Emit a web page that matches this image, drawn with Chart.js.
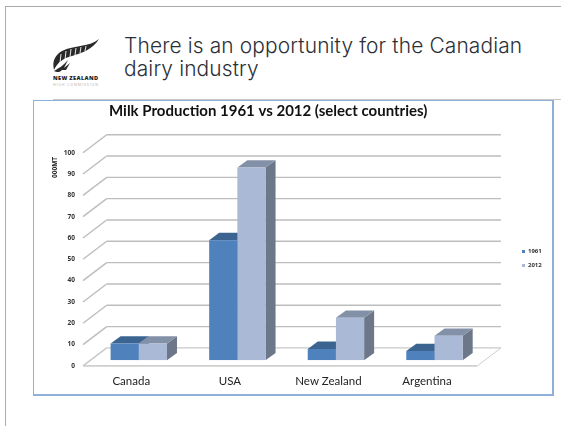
<!DOCTYPE html>
<html>
<head>
<meta charset="utf-8">
<script src="https://cdn.jsdelivr.net/npm/chart.js@4/dist/chart.umd.min.js"></script>
<style>
  html, body { margin: 0; padding: 0; background: #fff; overflow: hidden; }
  body { width: 561px; height: 426px; position: relative; font-family: "Open Sans", sans-serif; }
  .slide { position: absolute; left: 5px; top: 6px; width: 600px; height: 500px; border: 1px solid #ababab; border-width: 1.5px 0 0 1.5px; }
  .heading { position: absolute; left: 124px; top: 34px; font: 300 20.9px/23px Inter, sans-serif; color: #2b3038; white-space: nowrap; letter-spacing: .15px; }
  .rule { position: absolute; left: 53px; top: 98.5px; width: 508px; height: 1px; background: #c9c9c9; }
  .logo { position: absolute; left: 50px; top: 36px; width: 54px; height: 54px; }
  .frame { position: absolute; left: 33px; top: 100px; width: 518px; height: 293px; border: 1px solid #8fb0d8; border-width: 1px 2px 2px 1px; background: #fff; }
  canvas { display: block; }
</style>
</head>
<body>
<div class="slide"></div>
<div class="rule"></div>
<svg class="logo" viewBox="0 0 54 54">
  <path d="M49 3 C40 11 24 9 12 15 C5 19 2 25 4 34 C7 27 13 22 22 20 C32 17 43 13 49 3 Z" fill="#2a2a2a"/>
  <path d="M5 34 C9 26 16 23 24 21 M10 27 L11 18 M15 24 L16 15 M20 21 L21 13 M25 19 L26 12 M30 17 L31 11 M35 15 L36 10" stroke="#fff" stroke-width=".9" fill="none"/>
  <path d="M4 35 C9 32 13 30 18 24 L14 32 L20 27 L16 34 L12 34 C10 36 8 37 4 35 Z" fill="#2a2a2a"/>
  <text x="3" y="43.5" font-family="Open Sans" font-size="5.6" font-weight="800" fill="#222" textLength="45">NEW ZEALAND</text>
  <text x="3" y="49.5" font-family="Open Sans" font-size="3.8" fill="#b5b5b5" textLength="45">HIGH COMMISSION</text>
</svg>
<div class="heading">There is an opportunity for the Canadian<br>dairy industry</div>
<div class="frame"><canvas id="chart" width="518" height="293"></canvas></div>
<script>
// Milk output by country, thousands of tonnes as charted
const categories = ["Canada", "USA", "New Zealand", "Argentina"];
const series1961 = [7.8, 56.3, 5.3, 4.3];
const series2012 = [7.8, 90.4, 19.9, 11.5];
const yTicks = [0, 10, 20, 30, 40, 50, 60, 70, 80, 90, 100];
const yCaption = "000MT";

const FRONT = { dx: -6.5, dy: 5.7 };   // front edge of the floor relative to the bar plane
const BACK = { dx: 17.2, dy: -12.3 };  // back wall relative to the bar plane
const BAR_DEPTH = { dx: 10, dy: -7.3 };

function line(ctx, x1, y1, x2, y2) {
  ctx.beginPath();
  ctx.moveTo(x1, y1);
  ctx.lineTo(x2, y2);
  ctx.stroke();
}

function face(ctx, points, fill) {
  ctx.beginPath();
  points.forEach((p, i) => (i ? ctx.lineTo(p[0], p[1]) : ctx.moveTo(p[0], p[1])));
  ctx.closePath();
  ctx.fillStyle = fill;
  ctx.fill();
}

// Back wall, side wall and floor of the 3-D box
const boxWalls = {
  id: "boxWalls",
  beforeDatasetsDraw(chart) {
    const { ctx, chartArea: a, scales: { y } } = chart;
    ctx.save();
    ctx.lineWidth = 1.4;
    yTicks.forEach((v) => {
      const p = y.getPixelForValue(v);
      ctx.strokeStyle = v === 0 ? "#c8c8c8" : "#bdbdbd";
      line(ctx, a.left + FRONT.dx, p + FRONT.dy, a.left + BACK.dx, p + BACK.dy);
      line(ctx, a.left + BACK.dx, p + BACK.dy, a.right + BACK.dx, p + BACK.dy);
    });
    const p0 = y.getPixelForValue(0);
    ctx.strokeStyle = "#cfcfcf";
    ctx.lineWidth = 1.6;
    line(ctx, a.left + FRONT.dx, p0 + FRONT.dy, a.right + FRONT.dx, p0 + FRONT.dy);
    ctx.lineWidth = 1;
    line(ctx, a.right + FRONT.dx, p0 + FRONT.dy, a.right + BACK.dx, p0 + BACK.dy);
    ctx.restore();
  }
};

// Top and side faces behind each bar's front rectangle
const barDepth = {
  id: "barDepth",
  beforeDatasetsDraw(chart) {
    const { ctx } = chart;
    const shades = [
      { top: "#3c6491", side: "#3c5f88" },
      { top: "#8391a8", side: "#6c7789" }
    ];
    ctx.save();
    chart.data.datasets.forEach((_, di) => {
      chart.getDatasetMeta(di).data.forEach((bar) => {
        const l = bar.x - bar.width / 2;
        const r = bar.x + bar.width / 2;
        const t = bar.y;
        const b = bar.base;
        const d = BAR_DEPTH;
        face(ctx, [[r, t], [r + d.dx, t + d.dy], [r + d.dx, b + d.dy], [r, b]], shades[di].side);
        face(ctx, [[l, t], [l + d.dx, t + d.dy], [r + d.dx, t + d.dy], [r, t]], shades[di].top);
      });
    });
    ctx.restore();
  }
};

// Title sits left of centre, the legend a little right of and below its default box
const blockPlacement = {
  id: "blockPlacement",
  afterLayout(chart) {
    const title = chart.titleBlock;
    title.left = 75;
    const legend = chart.legend;
    const shiftX = 489 - 9 - legend.left;
    legend.left += shiftX;
    legend.right += shiftX;
    legend.top += 10.5;
    legend.bottom += 10.5;
  }
};

// Small rotated caption next to the value axis
const axisCaption = {
  id: "axisCaption",
  afterDraw(chart) {
    const { ctx } = chart;
    ctx.save();
    ctx.translate(21, 66.5);
    ctx.rotate(-Math.PI / 2);
    ctx.font = "bold 6.5px 'Open Sans'";
    ctx.fillStyle = "#222";
    ctx.textAlign = "center";
    ctx.textBaseline = "middle";
    ctx.fillText(yCaption, 0, 0);
    ctx.restore();
  }
};

new Chart(document.getElementById("chart"), {
  type: "bar",
  data: {
    labels: categories,
    datasets: [
      { label: "1961", data: series1961, backgroundColor: "#4f81bd" },
      { label: "2012", data: series2012, backgroundColor: "#aab9d6" }
    ]
  },
  plugins: [boxWalls, barDepth, blockPlacement, axisCaption],
  options: {
    responsive: false,
    animation: false,
    layout: { padding: { left: 17, right: 30.5, top: 1, bottom: 0 } },
    datasets: { bar: { categoryPercentage: 0.572, barPercentage: 1 } },
    plugins: {
      tooltip: { enabled: false },
      title: {
        display: true,
        align: "start",
        text: "Milk Production 1961 vs 2012 (select countries)",
        color: "#111",
        font: { family: "Lato", size: 15, weight: "bold" },
        padding: { top: 0, bottom: 27 }
      },
      legend: {
        position: "right",
        labels: {
          boxWidth: 3, boxHeight: 3, padding: 8,
          color: "#333",
          font: { family: "Open Sans", size: 6, weight: "bold" }
        }
      }
    },
    scales: {
      x: {
        grid: { display: false },
        border: { display: false },
        ticks: { color: "#222", labelOffset: -7.5, padding: 6, maxRotation: 0, font: { family: "Lato", size: 11.5 } }
      },
      y: {
        min: 0,
        max: 100,
        afterBuildTicks(scale) { scale.ticks = yTicks.map((value) => ({ value })); },
        afterFit(scale) { scale.width = 38.5; },
        grid: { display: false },
        border: { display: false },
        ticks: { color: "#333", padding: 6.5, labelOffset: 5.7, font: { family: "Open Sans", size: 6.5, weight: "bold" } }
      }
    }
  }
});
</script>
</body>
</html>
